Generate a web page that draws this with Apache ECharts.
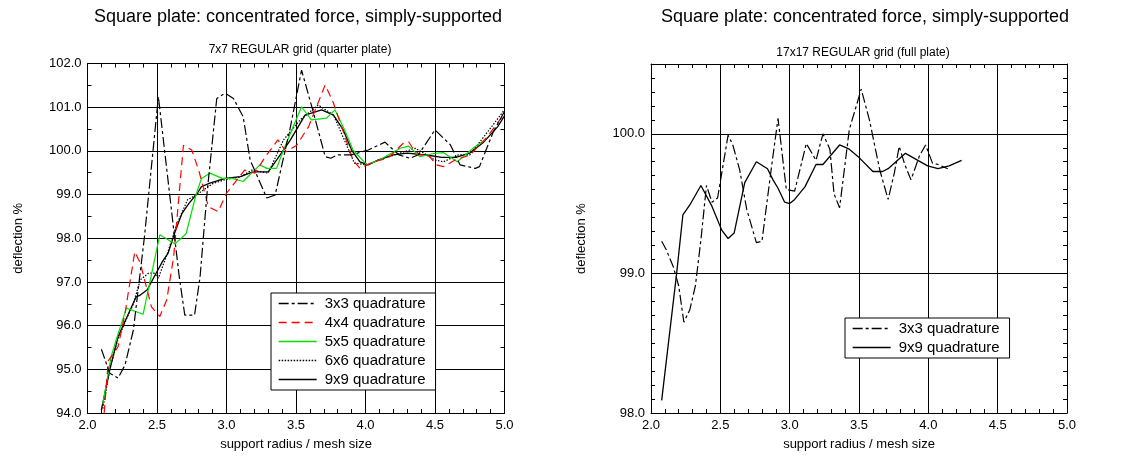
<!DOCTYPE html>
<html><head><meta charset="utf-8">
<script src="https://cdn.jsdelivr.net/npm/echarts@6/dist/echarts.min.js"></script>
<style>html,body{margin:0;padding:0;background:#fff}#c{width:1130px;height:459px}</style>
</head><body><div id="c"></div>
<script>
// ---- data ----
const seriesNames = ["3x3 quadrature","4x4 quadrature","5x5 quadrature","6x6 quadrature","9x9 quadrature"];

const L3x = [2.10,2.16,2.22,2.27,2.33,2.37,2.41,2.51,2.615,2.66,2.70,2.77,2.81,2.86,2.93,2.99,3.05,3.12,3.17,3.29,3.35,3.46,3.54,3.62,3.71,3.75,3.80,3.90,4.02,4.14,4.24,4.32,4.38,4.50,4.61,4.68,4.79,4.82,4.92,5.0];
const L3y = [95.46,94.91,94.80,95.10,95.90,96.97,98.04,101.24,98.34,97.12,96.24,96.24,97.12,99.03,101.2,101.32,101.2,100.78,99.79,98.92,98.99,100.55,101.85,100.94,99.87,99.83,99.91,99.91,100.02,100.20,99.91,99.83,99.91,100.48,100.14,99.68,99.60,99.64,100.44,100.9];

const L4x = [2.12,2.15,2.19,2.22,2.27,2.34,2.38,2.46,2.52,2.57,2.62,2.69,2.75,2.80,2.87,2.94,3.00,3.13,3.205,3.28,3.37,3.43,3.505,3.59,3.71,3.77,3.84,3.91,3.96,4.06,4.16,4.27,4.31,4.34,4.39,4.45,4.51,4.56,4.65,4.75,4.87,5.0];
const L4y = [94.0,95.2,95.37,95.52,96.28,97.69,97.43,96.43,96.21,96.59,97.58,100.13,100.02,99.56,98.72,98.61,99.03,99.56,99.49,99.87,100.25,99.98,100.13,100.55,101.51,101.09,100.44,99.79,99.60,99.75,99.83,100.17,100.21,100.06,99.91,99.91,99.68,99.64,99.8,99.9,100.3,100.85];

const L5x = [2.11,2.17,2.21,2.28,2.40,2.52,2.63,2.71,2.78,2.82,2.88,2.97,3.04,3.12,3.24,3.29,3.36,3.41,3.54,3.61,3.72,3.78,3.85,3.91,4.01,4.10,4.25,4.31,4.39,4.49,4.56,4.66,4.79,4.86];
const L5y = [94.2,95.29,95.71,96.40,96.26,98.08,97.87,98.11,98.99,99.37,99.49,99.37,99.37,99.30,99.68,99.60,99.60,100.02,101.01,100.71,100.75,100.94,100.48,100.02,99.68,99.79,100.06,100.11,99.87,99.94,99.96,99.75,100.10,100.25];

const L6x = [2.11,2.16,2.22,2.28,2.33,2.38,2.44,2.48,2.51,2.58,2.64,2.72,2.82,2.90,3.00,3.10,3.18,3.30,3.41,3.53,3.66,3.77,3.92,4.01,4.10,4.20,4.36,4.50,4.56,4.67,4.75,4.88,5.0];
const L6y = [94.1,95.0,95.7,96.15,96.5,97.05,97.2,97.2,97.09,97.7,98.3,98.88,99.07,99.25,99.35,99.4,99.56,99.49,100.25,100.71,101.05,100.82,99.72,99.68,99.8,99.9,100.06,99.79,99.75,99.91,99.91,100.44,100.94];

const L9x = [2.10,2.16,2.22,2.28,2.35,2.38,2.43,2.48,2.54,2.58,2.63,2.68,2.73,2.79,2.82,2.88,2.99,3.10,3.19,3.30,3.36,3.46,3.53,3.565,3.685,3.77,3.84,3.90,3.96,4.02,4.09,4.20,4.30,4.45,4.55,4.65,4.75,4.85,4.95,5.0];
const L9y = [94.07,94.99,95.75,96.17,96.66,96.70,96.82,97.12,97.47,97.66,98.15,98.57,98.80,99.03,99.18,99.26,99.37,99.41,99.52,99.52,99.79,100.25,100.63,100.82,100.94,100.82,100.48,100.02,99.75,99.68,99.79,99.91,99.95,99.9,99.85,99.85,99.95,100.2,100.55,100.8];

const R3x = [2.077,2.11,2.16,2.20,2.237,2.28,2.32,2.36,2.40,2.44,2.48,2.556,2.59,2.64,2.69,2.76,2.80,2.87,2.916,2.976,3.036,3.12,3.19,3.24,3.29,3.32,3.36,3.43,3.516,3.575,3.65,3.71,3.755,3.79,3.83,3.875,3.935,3.98,4.03,4.07,4.14];
const R3y = [99.23,99.17,99.05,98.91,98.65,98.74,98.91,99.24,99.63,99.51,99.54,99.99,99.92,99.74,99.46,99.22,99.23,99.77,100.11,99.60,99.59,99.93,99.81,100.0,99.89,99.57,99.47,100.03,100.32,100.10,99.74,99.53,99.72,99.91,99.78,99.67,99.84,99.92,99.79,99.78,99.75];

const R9x = [2.077,2.185,2.23,2.28,2.36,2.44,2.51,2.556,2.60,2.676,2.76,2.84,2.88,2.916,2.964,3.0,3.036,3.11,3.19,3.24,3.30,3.36,3.43,3.49,3.60,3.67,3.71,3.835,3.995,4.07,4.15,4.24];
const R9y = [98.09,99.0,99.42,99.49,99.63,99.48,99.31,99.25,99.29,99.65,99.80,99.75,99.67,99.61,99.51,99.50,99.53,99.62,99.78,99.78,99.85,99.92,99.89,99.84,99.73,99.73,99.75,99.86,99.77,99.75,99.77,99.81];

// ---- chart ----
const zip = (xs, ys) => xs.map((x, i) => [x, ys[i]]);
const FONT = '"Liberation Sans", Arial, sans-serif';
const styles = [
  {color:'#000', type:[10,3,3,3], width:1.2},
  {color:'#ff0000', type:[8,5], width:1.2},
  {color:'#00e000', type:'solid', width:1.2},
  {color:'#000', type:[1.5,1.5], width:1.2},
  {color:'#000', type:'solid', width:1.3}
];
const grids = [
  {left:87.5, right:625.5, top:63.5, bottom:46},
  {left:651, right:63, top:64, bottom:46}
];
function xAx(gi, top){
  return {type:'value', gridIndex:gi, min:2, max:5, interval:0.5, position: top?'top':'bottom',
    name: top? '' : 'support radius / mesh size', nameLocation:'middle', nameGap:25,
    nameTextStyle:{fontFamily:FONT, fontSize:13, color:'#000'},
    axisLine:{show:true, lineStyle:{color:'#000', width:1}},
    axisTick:{show:true, inside:true, length:5, lineStyle:{color:'#000'}},
    minorTick:{show:true, splitNumber:5, length:4, lineStyle:{color:'#000'}},
    axisLabel:{show:!top, fontFamily:FONT, fontSize:13, color:'#000', margin:6,
      formatter:v=>v.toFixed(1)},
    splitLine:{show:!top, lineStyle:{color:'#000', width:1}}};
}
function yAx(gi, right, min, max, interval, minorSplit, showMax){
  return {type:'value', gridIndex:gi, min:min, max:max, interval:interval, position: right?'right':'left',
    name: right? '' : 'deflection %', nameLocation:'middle', nameGap: 63,
    nameTextStyle:{fontFamily:FONT, fontSize:13, color:'#000'},
    axisLine:{show:true, lineStyle:{color:'#000', width:1}},
    axisTick:{show:true, inside:true, length:5, lineStyle:{color:'#000'}},
    minorTick:{show:true, splitNumber:minorSplit, length:4, lineStyle:{color:'#000'}},
    axisLabel:{show:!right, showMaxLabel:showMax, fontFamily:FONT, fontSize:13, color:'#000', margin:6,
      formatter:v=>v.toFixed(1)},
    splitLine:{show:!right, lineStyle:{color:'#000', width:1}}};
}
const leftData = [zip(L3x,L3y), zip(L4x,L4y), zip(L5x,L5y), zip(L6x,L6y), zip(L9x,L9y)];
const series = [];
leftData.forEach((d, i) => series.push({type:'line', name:seriesNames[i], xAxisIndex:0, yAxisIndex:0,
  data:d, symbol:'none', lineStyle:styles[i], itemStyle:{color:styles[i].color}, animation:false, z:10-i}));
series.push({type:'line', name:seriesNames[0], xAxisIndex:2, yAxisIndex:2, data:zip(R3x,R3y), symbol:'none',
  lineStyle:styles[0], itemStyle:{color:'#000'}, animation:false});
series.push({type:'line', name:seriesNames[4], xAxisIndex:2, yAxisIndex:2, data:zip(R9x,R9y), symbol:'none',
  lineStyle:styles[4], itemStyle:{color:'#000'}, animation:false});

const legendCommon = {orient:'vertical', backgroundColor:'#fff', borderColor:'#000', borderWidth:1,
  padding:[3,10,3,7], itemWidth:38, itemHeight:10, itemGap:4, selectedMode:false,
  itemStyle:{opacity:0}, lineStyle:{width:1.3},
  textStyle:{fontFamily:FONT, fontSize:15, color:'#000', padding:[0,0,0,3]}};

const option = {
  backgroundColor:'#fff',
  animation:false,
  title:[
    {text:'Square plate: concentrated force, simply-supported', left:293, top:3, textAlign:'center',
     textStyle:{fontFamily:FONT, fontSize:18, fontWeight:'normal', color:'#000'}},
    {text:'7x7 REGULAR grid (quarter plate)', left:295, top:39, textAlign:'center',
     textStyle:{fontFamily:FONT, fontSize:12, fontWeight:'normal', color:'#000'}},
    {text:'Square plate: concentrated force, simply-supported', left:860, top:3, textAlign:'center',
     textStyle:{fontFamily:FONT, fontSize:18, fontWeight:'normal', color:'#000'}},
    {text:'17x17 REGULAR grid (full plate)', left:858, top:42, textAlign:'center',
     textStyle:{fontFamily:FONT, fontSize:12, fontWeight:'normal', color:'#000'}}
  ],
  grid: grids,
  xAxis:[xAx(0,false), xAx(0,true), xAx(1,false), xAx(1,true)],
  yAxis:[yAx(0,false,94,102,1,2,true), yAx(0,true,94,102,1,2,true), yAx(1,false,98,100.5,1,10,false), yAx(1,true,98,100.5,1,10,false)],
  legend:[
    Object.assign({left:271, top:293, data:seriesNames}, legendCommon),
    Object.assign({left:845, top:318, data:[seriesNames[0], seriesNames[4]]}, legendCommon)
  ],
  series: series
};
option.xAxis[1].gridIndex = 0; option.xAxis[3].gridIndex = 1;
option.yAxis[1].gridIndex = 0; option.yAxis[3].gridIndex = 1;
const chart = echarts.init(document.getElementById('c'), null, {renderer:'canvas'});
chart.setOption(option);
</script></body></html>
